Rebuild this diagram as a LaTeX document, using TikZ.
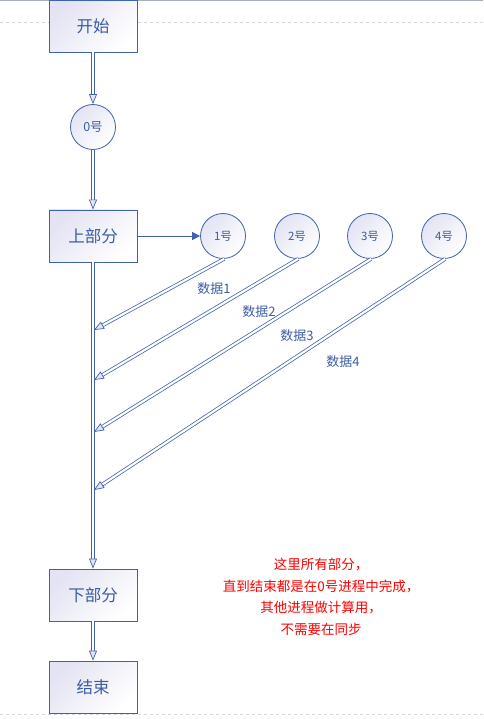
\documentclass[tikz,border=0pt]{standalone}
\usepackage{fontspec}
\setmainfont{Noto Sans CJK SC}
\usetikzlibrary{arrows.meta}
\definecolor{vb}{HTML}{3F62AD}
\definecolor{vt}{HTML}{3C5CA3}
\definecolor{lav}{HTML}{E3E3F3}
\definecolor{pg}{HTML}{A8AEB8}
\begin{document}
\begin{tikzpicture}[x=1pt,y=-1pt,
  box/.style={draw=vb, line width=0.9pt, minimum width=88pt, minimum height=52pt,
    inner sep=0pt, top color=lav, bottom color=white, shading angle=45,
    font=\fontsize{16.5}{18}\selectfont, text=vt},
  proc/.style={circle, draw=vb, line width=0.8pt, minimum size=45pt, inner sep=0pt,
    top color=lav, bottom color=white, shading angle=45,
    font=\fontsize{11.5}{13}\selectfont, text=vt},
  dbl/.style={draw=vb, line width=0.75pt, double=white, double distance=2.2pt,
    -{Triangle[length=10pt, width=8pt, fill=lav, line width=0.7pt]}},
  sgl/.style={draw=vb, line width=1pt, -{Triangle[length=8pt, width=8pt]}},
  lbl/.style={font=\fontsize{13}{15}\selectfont, text=vt, inner sep=0pt},
  note/.style={font=\fontsize{13.5}{21.5}\selectfont, text=red, align=center, inner sep=0pt}
]
\useasboundingbox (0,0) rectangle (483,719);
% page guides
\draw[pg, line width=1pt] (0,0.5) -- (483,0.5);
\draw[pg!50, line width=0.6pt, dashed] (0,22.5) -- (483,22.5);
\draw[pg!50, line width=0.6pt, dashed] (0,714) -- (483,714);

\node[box] (start) at (93,26) {开始};
\node[proc, font=\fontsize{12.5}{14}\selectfont] (p0) at (93,127) {0号};
\node[box] (top) at (93,236) {上部分};
\node[proc] (p1) at (223,236) {1号};
\node[proc] (p2) at (297,236) {2号};
\node[proc] (p3) at (370,236) {3号};
\node[proc] (p4) at (444,236) {4号};
\node[box] (bot) at (93,595) {下部分};
\node[box] (end) at (93,687) {结束};

\coordinate (j1) at (94,330);
\coordinate (j2) at (94,380);
\coordinate (j3) at (94,432);
\coordinate (j4) at (94,490);

\draw[dbl] (start) -- (p0);
\draw[dbl] (p0) -- (top);
\draw[sgl] (top) -- (p1);
\draw[dbl] (top) -- (bot);
\draw[dbl] (bot) -- (end);

\draw[dbl] (p1.273) -- (j1);
\draw[dbl] (p2.273) -- (j2);
\draw[dbl] (p3.273) -- (j3);
\draw[dbl] (p4.273) -- (j4);

\node[lbl] (d1) at (214,289) {数据1};
\node[lbl] (d2) at (259,312) {数据2};
\node[lbl] (d3) at (297,336) {数据3};
\node[lbl] (d4) at (343,362) {数据4};

\node[note] (txt) at (321,597) {这里所有部分，\\直到结束都是在0号进程中完成，\\其他进程做计算用，\\不需要在同步};
\end{tikzpicture}
\end{document}
